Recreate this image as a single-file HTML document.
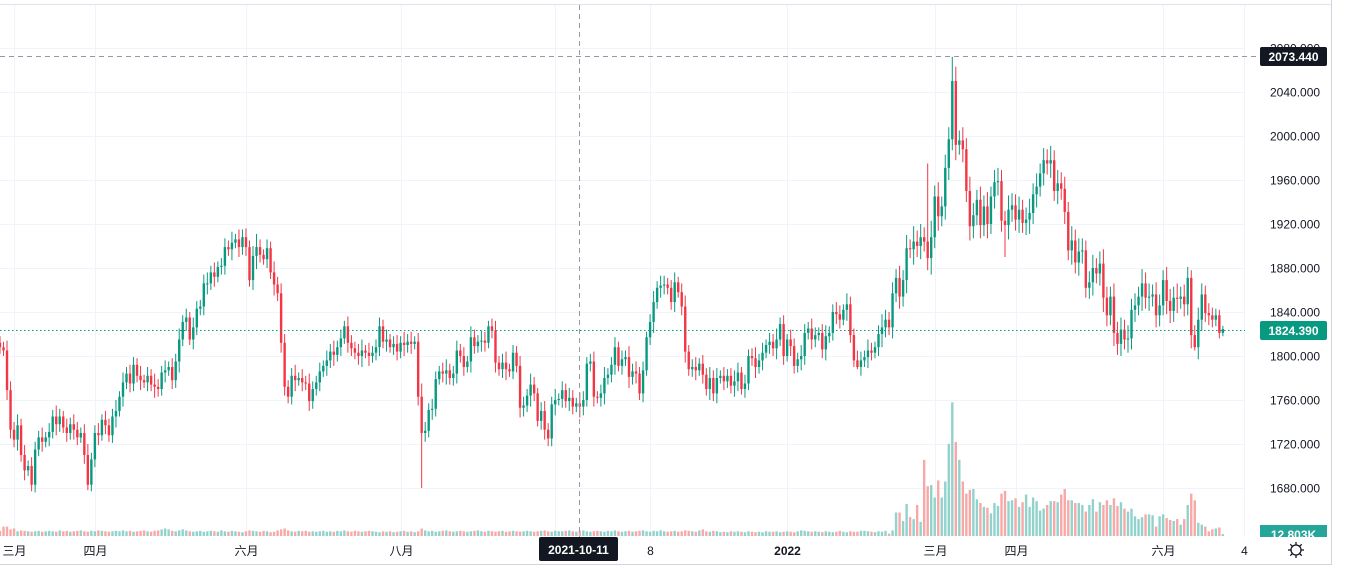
<!DOCTYPE html>
<html><head><meta charset="utf-8">
<style>
html,body{margin:0;padding:0;background:#fff;width:1365px;height:568px;overflow:hidden}
svg{display:block;font-family:"Liberation Sans","Noto Sans CJK SC",sans-serif}
</style></head>
<body>
<svg id="chart" width="1365" height="568" viewBox="0 0 1365 568">
  <rect x="0" y="0" width="1365" height="568" fill="#fff"/>
  <g id="grid"></g>
  <line x1="0" y1="4.5" x2="1331" y2="4.5" stroke="#e0e3eb"/>
  <g id="vol"></g>
  <g id="candles"></g>
  <line x1="0" y1="330.5" x2="1245" y2="330.5" stroke="#089981" stroke-dasharray="1.5 2.5"/>
  <line x1="0" y1="56.5" x2="1258" y2="56.5" stroke="#9598a1" stroke-dasharray="5 4"/>
  <line x1="579.5" y1="5" x2="579.5" y2="537" stroke="#9598a1" stroke-dasharray="5 4"/>
  <rect x="1252" y="537" width="79" height="27" fill="#fff"/>
  <g id="yaxis"></g>
  <g id="xaxis"></g>
  <line x1="1331.5" y1="0" x2="1331.5" y2="565" stroke="#d1d4dc"/>
  <line x1="0" y1="564.5" x2="1332" y2="564.5" stroke="#d1d4dc"/>
  <g>
    <rect x="1260" y="47" width="67" height="19" rx="2" fill="#131722"/>
    <text x="1293.5" y="61" text-anchor="middle" font-size="12" font-weight="bold" fill="#fff">2073.440</text>
  </g>
  <g>
    <rect x="1260" y="321" width="67" height="19" rx="2" fill="#089981"/>
    <text x="1293.5" y="335" text-anchor="middle" font-size="12" font-weight="bold" fill="#fff">1824.390</text>
  </g>
  <g>
    <rect x="1260" y="525" width="67" height="12" fill="#26a69a"/>
    <text x="1293.5" y="539" text-anchor="middle" font-size="12" font-weight="bold" fill="#fff">12.803K</text>
  </g>
  <rect x="1252" y="537" width="79" height="27" fill="#fff"/>
  <g>
    <rect x="539" y="537" width="79" height="24" rx="2" fill="#131722"/>
    <text x="578.5" y="554" text-anchor="middle" font-size="12" font-weight="bold" fill="#fff">2021-10-11</text>
  </g>
  <g transform="translate(1296,550)" stroke="#131722" fill="#fff" stroke-width="1.3">
    <circle r="5"/>
    <line x1="0" y1="-8" x2="0" y2="-5"/><line x1="0" y1="5" x2="0" y2="8"/>
    <line x1="-8" y1="0" x2="-5" y2="0"/><line x1="5" y1="0" x2="8" y2="0"/>
    <line x1="-5.7" y1="-5.7" x2="-3.5" y2="-3.5"/><line x1="3.5" y1="3.5" x2="5.7" y2="5.7"/>
    <line x1="-5.7" y1="5.7" x2="-3.5" y2="3.5"/><line x1="3.5" y1="-3.5" x2="5.7" y2="-5.7"/>
  </g>
</svg>
<script>
const closes = [
1808,1805,1769,1733,1724,1737,1710,1696,1700,1683,
1715,1726,1722,1726,1731,1745,1738,1745,1735,1730,
1738,1733,1726,1730,1710,1683,1706,1730,1728,1742,
1737,1728,1745,1750,1763,1776,1784,1775,1792,1782,
1778,1776,1782,1774,1772,1770,1785,1787,1790,1778,
1795,1815,1831,1835,1815,1826,1843,1845,1866,1866,
1876,1872,1881,1882,1899,1897,1903,1906,1899,1908,
1899,1869,1891,1899,1892,1888,1898,1876,1865,1857,
1812,1772,1763,1782,1778,1780,1776,1775,1759,1770,
1776,1786,1791,1796,1804,1801,1808,1816,1827,1812,
1807,1803,1800,1805,1803,1800,1803,1808,1827,1813,
1815,1808,1811,1804,1812,1810,1813,1811,1813,1763,
1730,1732,1751,1752,1779,1786,1784,1787,1780,1784,
1805,1800,1790,1795,1817,1809,1813,1814,1812,1827,
1823,1794,1788,1794,1788,1786,1803,1791,1753,1755,
1764,1774,1766,1741,1750,1733,1725,1756,1760,1761,
1769,1759,1762,1754,1757,1754,1760,1793,1795,1763,
1762,1766,1780,1783,1792,1808,1791,1797,1799,1781,
1786,1784,1766,1787,1817,1831,1849,1862,1864,1865,
1862,1849,1867,1858,1845,1804,1788,1790,1787,1793,
1783,1770,1780,1766,1780,1782,1777,1782,1773,1777,
1785,1770,1775,1800,1798,1790,1796,1803,1810,1813,
1807,1815,1829,1800,1815,1809,1791,1797,1800,1821,
1825,1815,1819,1821,1806,1818,1821,1840,1838,1833,
1842,1847,1819,1796,1790,1796,1799,1805,1803,1808,
1820,1826,1833,1826,1857,1871,1854,1869,1898,1897,
1904,1900,1908,1904,1889,1908,1945,1927,1936,1971,
1997,2050,1992,1996,1988,1950,1918,1928,1942,1919,
1936,1920,1945,1958,1959,1923,1919,1933,1937,1924,
1933,1921,1924,1930,1947,1954,1966,1978,1975,1978,
1950,1957,1952,1931,1896,1905,1885,1895,1896,1862,
1867,1880,1875,1884,1853,1837,1854,1821,1811,1824,
1815,1816,1842,1846,1854,1866,1853,1854,1856,1837,
1846,1869,1850,1841,1853,1852,1854,1847,1871,1819,
1808,1833,1856,1839,1837,1833,1837,1821,1824.39];
const wicks = [
6,5,9,8,7,10,6,9,5,8,
7,6,9,5,8,6,10,7,5,8,
6,9,7,5,8,10,6,7,9,5,
8,6,7,10,5,9,6,8,7,6,
9,5,8,6,10,7,6,9,5,8,
7,10,6,8,5,9,7,6,8,10,
6,9,5,7,8,6,10,5,9,7,
8,6,9,12,7,5,8,6,10,7,
9,8,6,7,10,5,8,6,9,7,
6,8,5,9,7,10,6,8,5,9,
7,6,8,10,5,9,6,7,8,6,
9,5,7,8,6,10,7,9,5,8,
12,8,6,9,7,5,8,10,6,7,
9,6,8,5,10,7,6,9,8,5,
7,9,6,8,10,5,7,6,9,8,
6,10,7,5,8,9,6,7,10,5,
8,6,9,7,5,10,8,6,7,9,
5,8,10,6,7,9,5,8,6,10,
7,9,6,8,5,7,10,6,9,8,
6,7,9,5,8,10,6,7,9,5,
8,6,10,7,9,5,8,6,7,10,
9,5,8,6,7,10,6,9,5,8,
7,10,6,8,5,9,7,6,10,8,
6,9,7,5,8,10,6,7,9,8,
5,10,7,6,9,8,6,10,7,5,
8,12,9,7,10,8,11,9,12,8,
14,10,12,9,11,15,10,13,9,12,
11,10,14,9,12,10,13,11,9,12,
10,13,9,11,12,10,9,13,11,10,
12,9,11,13,10,12,9,11,10,13,
9,12,10,11,9,13,10,12,11,9,
10,12,9,11,13,10,9,12,10,11,
9,12,10,11,9,13,10,12,9,11,
10,9,12,11,10,13,9,11,10,12,
9,11,10,8,9,7,6,5,3];
const spikeIdx = [9, 25, 120, 156, 244, 264, 271, 272, 286, 339, 340];
const spikeVal = [1677, 1678, 1680, 1718, 1788, 1975, 2072, 2063, 1890, 1878, 1805];
const volumes = [
35,64,64,45,51,32,38,35,32,29,
32,35,29,32,35,32,29,38,32,35,
29,32,35,38,32,29,35,32,38,35,
32,29,32,35,32,38,32,35,29,32,
35,38,32,29,35,38,45,51,45,35,
32,38,45,38,32,29,32,35,29,32,
35,32,29,38,32,29,35,32,29,26,
32,38,35,32,29,35,32,26,29,38,
45,51,38,32,29,35,32,35,29,32,
29,32,35,29,32,29,35,32,38,32,
29,35,32,29,32,35,32,29,26,32,
29,32,26,29,32,35,29,32,26,32,
51,38,32,35,29,32,35,38,32,29,
32,35,32,29,32,35,38,32,29,35,
32,29,32,35,29,32,35,32,29,32,
35,32,29,32,35,38,32,29,35,32,
32,35,38,32,29,35,38,32,29,32,
35,32,29,35,32,38,32,29,32,35,
29,32,35,38,32,29,35,32,38,32,
29,32,35,29,32,38,35,32,29,38,
45,32,29,35,32,26,29,26,32,29,
32,29,26,32,29,26,29,26,32,29,
29,32,26,29,32,29,26,32,38,35,
32,29,32,29,26,32,29,26,29,35,
29,26,32,29,29,35,35,32,29,26,
32,29,35,
16,38,160,160,102,218,128,115,211,96,
518,339,346,262,378,262,371,627,909,640,
518,371,288,314,320,250,224,198,192,154,
224,205,288,307,237,243,256,198,230,282,
198,262,237,173,186,211,237,237,230,282,
320,243,243,224,224,211,166,211,250,166,
230,211,243,211,256,205,230,186,166,186,
134,115,128,147,147,141,64,134,147,122,
109,102,115,77,115,211,288,243,90,77,
64,32,45,51,58,12.8];
const priceTicks = [1680,1720,1760,1800,1840,1880,1920,1960,2000,2040,2080];
const timeLabels = ["三月","四月","六月","八月","十月","8","2022","三月","四月","六月","4"];
const timeIdx = [4, 27, 70, 114, 158, 185, 224, 266, 289, 331, 354];

const NS = "http://www.w3.org/2000/svg";
const X0 = 0, STEP = 3.514;
function xOf(i){ return X0 + i*STEP; }
function yOf(p){ return 356 - (p-1800)*1.1; }
function yVol(v){ return 536 - v/6.8; }
function mk(tag, attrs, parent){
  const e = document.createElementNS(NS, tag);
  for (const k in attrs) e.setAttribute(k, attrs[k]);
  parent.appendChild(e);
  return e;
}
const grid = document.getElementById('grid');
const cg = document.getElementById('candles');
const vg = document.getElementById('vol');
const ya = document.getElementById('yaxis');
const xa = document.getElementById('xaxis');

priceTicks.forEach(p => {
  const y = Math.round(yOf(p)) + 0.5;
  const gl = mk('line', {x1:0, y1:y, x2:1245, y2:y, stroke:'#f0f3fa'}, grid);
  
  
  const t = mk('text', {x:1270, y:y+4, 'font-size':12, fill:'#131722'}, ya);
  t.textContent = p.toFixed(3);
  
  
});
timeLabels.forEach((lab, k) => {
  const x = Math.round(xOf(timeIdx[k])) + 0.5;
  const gl = mk('line', {x1:x, y1:5, x2:x, y2:537, stroke:'#f0f3fa'}, grid);
  
  
  const t = mk('text', {x:x, y:555, 'font-size':12, 'text-anchor':'middle', fill:'#131722', 'font-weight': lab==='2022' ? 'bold' : 'normal'}, xa);
  t.textContent = lab;
  
  
});

let prev = 1812;
closes.forEach((c, i) => {
  const o = prev; prev = c;
  let hi = Math.max(o, c) + wicks[i];
  let lo = Math.min(o, c) - wicks[i];
  const s = spikeIdx.indexOf(i);
  if (s >= 0) { if (spikeVal[s] > c) hi = spikeVal[s]; else lo = spikeVal[s]; }
  const up = c >= o;
  const col = up ? '#089981' : '#f23645';
  const x = xOf(i);
  const w = mk('line', {x1:x, y1:yOf(hi), x2:x, y2:yOf(lo), stroke:col, 'stroke-width':1}, cg);
  
  
  const yt = yOf(Math.max(o, c)), yb = yOf(Math.min(o, c));
  const b = mk('rect', {x:x-1.2, y:yt, width:2.4, height:Math.max(1, yb-yt), fill:col}, cg);
  
  
  const v = volumes[i];
  const vy = yVol(v);
  const vb = mk('rect', {x:x-1.2, y:vy, width:2.4, height:536-vy, fill: up ? '#92d2cc' : '#f7a9a7'}, vg);
  
  
});
</script>
</body></html>
